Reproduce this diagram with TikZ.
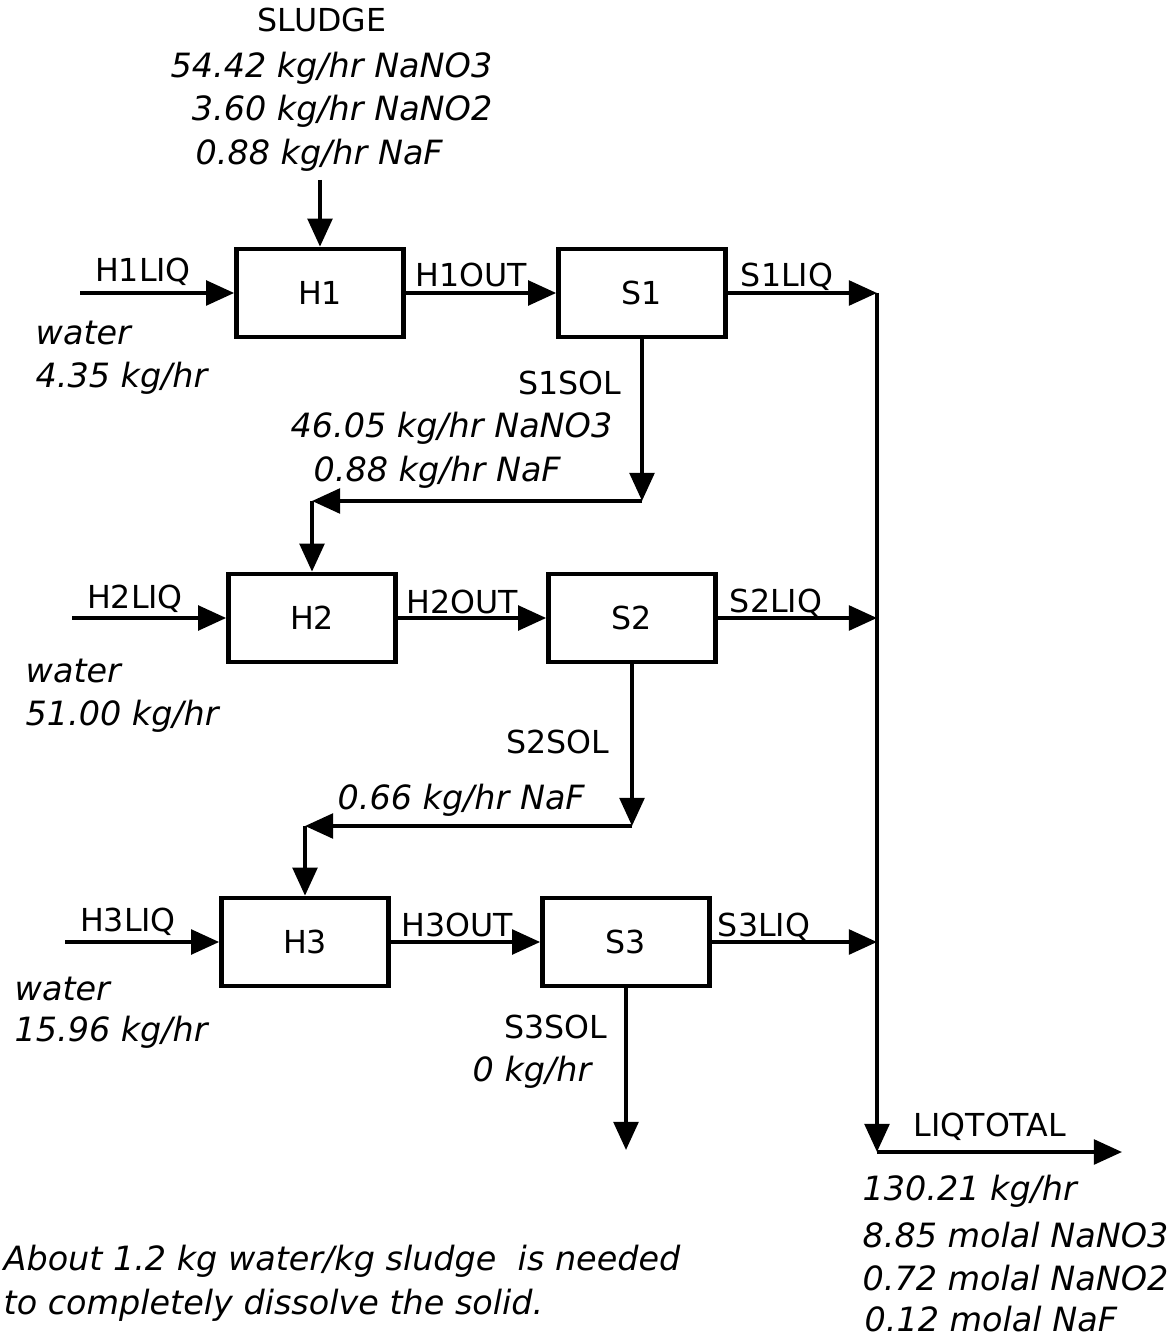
\documentclass[tikz,border=0pt]{standalone}
\usepackage{fontspec}
\setmainfont{DejaVu Sans}
\usetikzlibrary{arrows.meta}

\begin{document}
\begin{tikzpicture}[x=0.01cm, y=-0.01cm,
  every node/.style={font=\fontsize{9}{11}\selectfont, inner sep=0pt},
  unit/.style={draw, line width=1.3pt, minimum width=1.67cm,
               minimum height=0.88cm, inner sep=0pt},
  val/.style={font=\fontsize{9.5}{11}\selectfont\itshape, anchor=west},
  ar/.style={-{Triangle[length=8pt,width=7pt]}, line width=1.1pt},
]
  \useasboundingbox (0,0) rectangle (1172,1340);

  % UNITS
  \node[unit] (h1) at (320,293) {H1};
  \node[unit] (s1) at (642,293) {S1};
  \node[unit] (h2) at (312,618) {H2};
  \node[unit] (s2) at (632,618) {S2};
  \node[unit] (h3) at (305,942) {H3};
  \node[unit] (s3) at (626,942) {S3};

  % FEED
  \node (sludge) at (322,20) {SLUDGE};
  \node[val, anchor=east] (sl1) at (493,68)  {54.42 kg/hr NaNO3};
  \node[val, anchor=east] (sl2) at (493,111) {3.60 kg/hr NaNO2};
  \node[val] (sl3) at (195,155) {0.88 kg/hr NaF};
  \coordinate (feed) at (320,180);
  \draw[ar] (feed) -- (h1.north);

  % WATER INLETS
  \coordinate (in1) at (80,293);
  \coordinate (in2) at (72,618);
  \coordinate (in3) at (65,942);
  \foreach \i in {1,2,3}
    \draw[ar] (in\i) -- (h\i);
  \node (h1liq) at (143,272) {H1LIQ};
  \node (h2liq) at (135,599) {H2LIQ};
  \node (h3liq) at (128,922) {H3LIQ};
  \node[val] (w1)  at (35,333)  {water};
  \node[val] (w1r) at (35,378)  {4.35 kg/hr};
  \node[val] (w2)  at (25,671)  {water};
  \node[val] (w2r) at (25,716)  {51.00 kg/hr};
  \node[val] (w3)  at (14,989)  {water};
  \node[val] (w3r) at (14,1032) {15.96 kg/hr};

  % HEATER -> SETTLER
  \foreach \i in {1,2,3}
    \draw[ar] (h\i) -- (s\i);
  \node (h1out) at (471,275) {H1OUT};
  \node (h2out) at (462,602) {H2OUT};
  \node (h3out) at (457,925) {H3OUT};

  % LIQUID COLLECTOR
  \coordinate (j1) at (877,293);
  \coordinate (j2) at (877,618);
  \coordinate (j3) at (877,942);
  \coordinate (jt) at (877,1152);
  \coordinate (out) at (1122,1152);
  \foreach \i in {1,2,3}
    \draw[ar] (s\i) -- (j\i);
  \node (s1liq) at (787,277) {S1LIQ};
  \node (s2liq) at (776,603) {S2LIQ};
  \node (s3liq) at (764,927) {S3LIQ};
  \draw[ar] (j1) -- (jt);
  \draw[ar] (jt) -- (out);
  \node (liqt) at (990,1127) {LIQTOTAL};
  \node[val] (lt1) at (862,1191) {130.21 kg/hr};
  \node[val] (lt2) at (862,1235) {8.85 molal NaNO3};
  \node[val] (lt3) at (862,1278) {0.72 molal NaNO2};
  \node[val] (lt4) at (864,1319) {0.12 molal NaF};

  % SOLIDS RECYCLE
  \coordinate (c1) at (s1.south |- 0,501);
  \coordinate (c2) at (s2.south |- 0,826);
  \draw[ar] (s1.south) -- (c1);
  \draw[ar] (c1) -- (c1 -| h2.north);
  \draw[ar] (c1 -| h2.north) -- (h2.north);
  \draw[ar] (s2.south) -- (c2);
  \draw[ar] (c2) -- (c2 -| h3.north);
  \draw[ar] (c2 -| h3.north) -- (h3.north);
  \node (s1sol) at (570,383) {S1SOL};
  \node[val] (ss1) at (290,428) {46.05 kg/hr NaNO3};
  \node[val] (ss2) at (313,472) {0.88 kg/hr NaF};
  \node (s2sol) at (558,742) {S2SOL};
  \node[val] (ss3) at (337,800) {0.66 kg/hr NaF};

  % LAST SOLIDS
  \coordinate (sout) at (s3.south |- 0,1150);
  \draw[ar] (s3.south) -- (sout);
  \node (s3sol) at (556,1027) {S3SOL};
  \node[val] (ss4) at (472,1072) {0 kg/hr};

  % NOTE
  \node[val] (nt1) at (3,1261) {About 1.2 kg water/kg sludge\ \ is needed};
  \node[val] (nt2) at (3,1305) {to completely dissolve the solid.};
\end{tikzpicture}
\end{document}
